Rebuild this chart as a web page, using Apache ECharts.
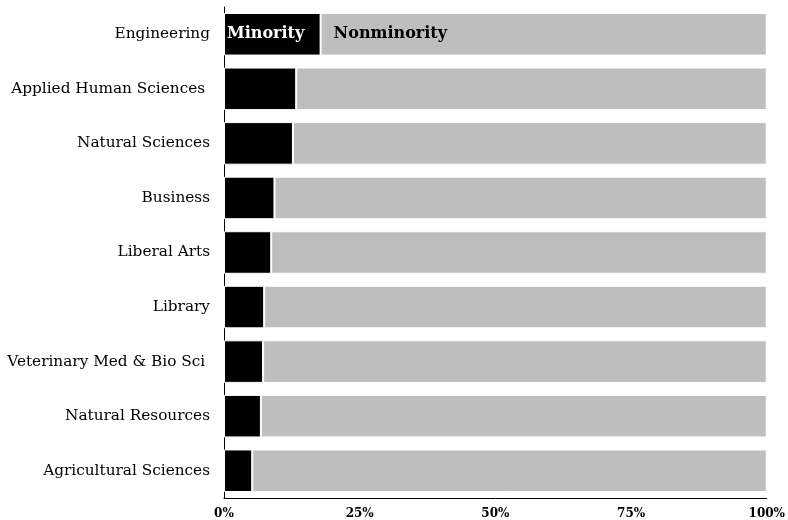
<!DOCTYPE html>
<html>
<head>
<meta charset="utf-8">
<script src="https://cdn.jsdelivr.net/npm/echarts@6/dist/echarts.min.js"></script>
<style>
  html, body { margin: 0; padding: 0; background: #fff; }
  #chart { width: 788px; height: 520px; }
</style>
</head>
<body>
<div id="chart"></div>
<script>
// colleges, top to bottom
const categories = [
  "Engineering",
  "Applied Human Sciences ",
  "Natural Sciences",
  "Business",
  "Liberal Arts",
  "Library",
  "Veterinary Med & Bio Sci ",
  "Natural Resources",
  "Agricultural Sciences"
]
// share of faculty, percent
const minority = [17.8, 13.3, 12.7, 9.3, 8.7, 7.4, 7.2, 6.8, 5.2]
const nonminority = [82.2, 86.7, 87.3, 90.7, 91.3, 92.6, 92.8, 93.2, 94.8]
const xTicks = [0, 25, 50, 75, 100]

const font = "DejaVu Serif"

// only the first row carries the series names
const withLabel = (values, labelOpts) => values.map((v, i) => (
  i === 0 ? {value: v, label: Object.assign({show: true}, labelOpts)} : v
))

const chart = echarts.init(document.getElementById("chart"), null, {renderer: "canvas"})
chart.setOption({
  animation: false,
  textStyle: {fontFamily: font},
  grid: {left: 224, right: 18, top: 7, bottom: 22, containLabel: false},
  xAxis: {
    type: "value",
    min: xTicks[0],
    max: xTicks[xTicks.length - 1],
    interval: 25,
    axisLine: {show: true, lineStyle: {color: "#000", width: 1}},
    axisTick: {show: false},
    splitLine: {show: false},
    axisLabel: {
      formatter: "{value}%",
      fontFamily: font,
      fontWeight: "bold",
      fontSize: 12,
      color: "#000",
      margin: 10
    }
  },
  yAxis: {
    type: "category",
    data: categories,
    inverse: true,
    axisLine: {show: true, lineStyle: {color: "#000", width: 1}},
    axisTick: {show: false},
    axisLabel: {
      fontFamily: font,
      fontSize: 15.3,
      color: "#000",
      margin: 14
    }
  },
  series: [
    {
      name: "Minority",
      type: "bar",
      stack: "share",
      barCategoryGap: "22%",
      itemStyle: {color: "#000", borderColor: "#fff", borderWidth: 1},
      data: withLabel(minority, {
        position: "insideLeft",
        distance: 3,
        formatter: "Minority",
        color: "#fff",
        fontFamily: font,
        fontWeight: "bold",
        fontSize: 16
      })
    },
    {
      name: "Nonminority",
      type: "bar",
      stack: "share",
      barCategoryGap: "22%",
      itemStyle: {color: "#bebebe", borderColor: "#fff", borderWidth: 1},
      data: withLabel(nonminority, {
        position: "insideLeft",
        distance: 13,
        formatter: "Nonminority",
        color: "#000",
        fontFamily: font,
        fontWeight: "bold",
        fontSize: 16
      })
    }
  ]
})
</script>
</body>
</html>
